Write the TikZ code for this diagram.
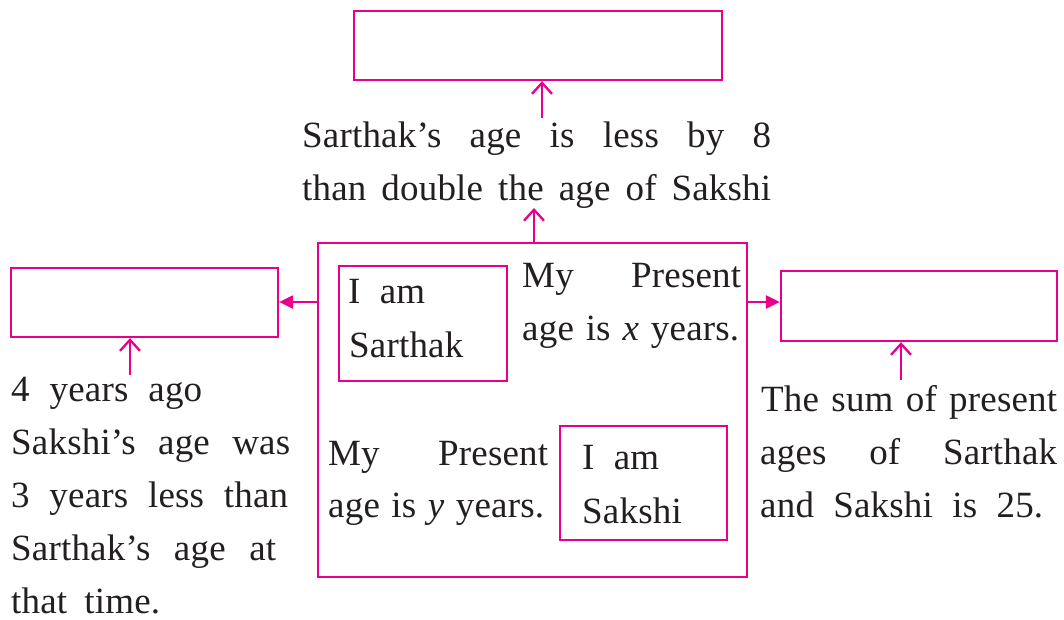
\documentclass[tikz,border=0pt]{standalone}
\usepackage{fontspec}
\setmainfont{Liberation Serif}[LetterSpace=0.5]
\usetikzlibrary{arrows.meta}
\definecolor{mag}{RGB}{232,0,140}
\definecolor{ink}{RGB}{35,31,32}
\tikzset{
  box/.style={draw=mag, line width=2.3pt, inner sep=0pt, rectangle},
  txt/.style={font=\fontsize{37}{44}\selectfont, text=ink, inner sep=0pt, anchor=base west},
  uparrow/.style={draw=mag, line width=2.3pt, -{Straight Barb[length=11pt,width=20pt,line width=2.3pt]}},
  sidearrow/.style={draw=mag, line width=2.3pt, -{Triangle[length=14pt,width=13pt]}}
}
\begin{document}
\begin{tikzpicture}[x=1pt,y=-1pt]
\useasboundingbox (0,0) rectangle (1064,619);
% boxes
\node[box, minimum width=368pt, minimum height=69pt] (topbox) at (538,45.5) {};
\node[box, minimum width=429pt, minimum height=334pt] (central) at (532.5,410) {};
\node[box, minimum width=267pt, minimum height=69pt] (leftbox) at (144.5,302.5) {};
\node[box, minimum width=276pt, minimum height=70pt] (rightbox) at (919,306) {};
\node[box, minimum width=168pt, minimum height=115pt] (sarbox) at (423,323.5) {};
\node[box, minimum width=167pt, minimum height=114pt] (sakbox) at (643.5,483) {};
% top text
\node[txt] (t1) at (302,147) {\makebox[469pt][s]{Sarthak’s age is less by 8}};
\node[txt] (t2) at (302,200) {\makebox[469pt][s]{than double the age of Sakshi}};
% left text
\node[txt] (l1) at (11,401) {\makebox[191pt][s]{4 years ago}};
\node[txt] (l2) at (11,454) {\makebox[279pt][s]{Sakshi’s age was}};
\node[txt] (l3) at (11,507) {\makebox[277pt][s]{3 years less than}};
\node[txt] (l4) at (11,560) {\makebox[265pt][s]{Sarthak’s age at}};
\node[txt] (l5) at (11,613) {\makebox[149pt][s]{that time.}};
% right text
\node[txt] (r1) at (761,411) {\makebox[296pt][s]{The sum of present}};
\node[txt] (r2) at (760,464) {\makebox[297pt][s]{ages of Sarthak}};
\node[txt] (r3) at (760,517) {\makebox[283pt][s]{and Sakshi is 25.}};
% central texts
\node[txt] (c1) at (522,287) {\makebox[219pt][s]{My Present}};
\node[txt] (c2) at (522,340) {\makebox[217pt][s]{age is \textit{x} years.}};
\node[txt] (c3) at (328,465) {\makebox[220pt][s]{My Present}};
\node[txt] (c4) at (328,517) {\makebox[216pt][s]{age is \textit{y} years.}};
\node[txt] (s1) at (348,303) {\makebox[77pt][s]{I am}};
\node[txt] (s2) at (349,357) {Sarthak};
\node[txt] (k1) at (582,469) {\makebox[77pt][s]{I am}};
\node[txt] (k2) at (582,523) {Sakshi};
% arrows
\coordinate (u1) at (542,118);
\coordinate (u2) at (534,208);
\coordinate (u3) at (130,375);
\coordinate (u4) at (901,380);
\draw[uparrow] (u1) -- (u1 |- topbox.south);
\draw[uparrow] (u2 |- central.north) -- (u2);
\draw[uparrow] (u3) -- (u3 |- leftbox.south);
\draw[uparrow] (u4) -- (u4 |- rightbox.south);
\coordinate (hl) at (0,302);
\draw[sidearrow] (central.west |- hl) -- (leftbox.east |- hl);
\draw[sidearrow] (central.east |- hl) -- (rightbox.west |- hl);
\end{tikzpicture}
\end{document}
